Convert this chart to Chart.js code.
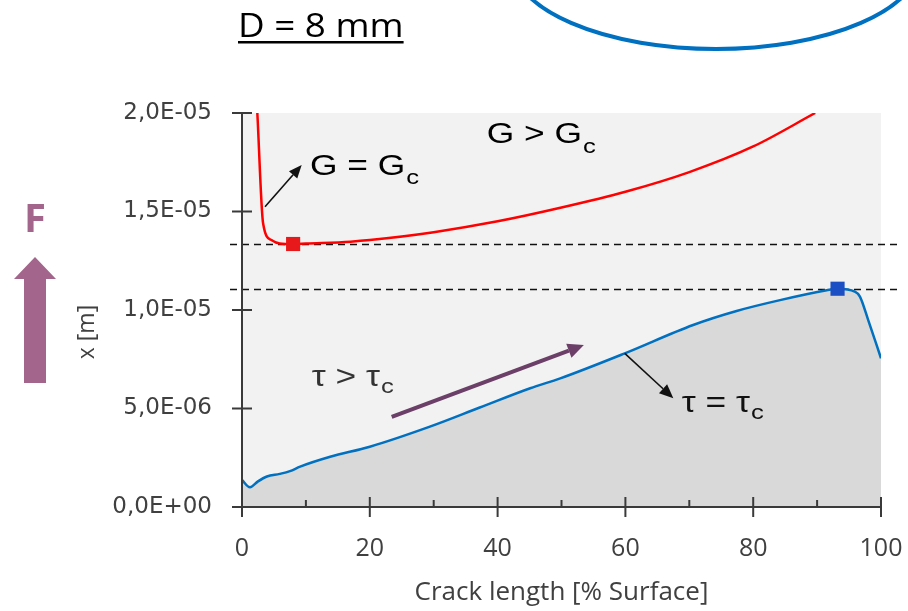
<!DOCTYPE html>
<html><head><meta charset="utf-8">
<script src="https://cdn.jsdelivr.net/npm/chart.js@4.4.1/dist/chart.umd.min.js"></script>
<style>html,body{margin:0;padding:0;background:#fff;overflow:hidden}canvas{display:block}</style>
</head><body>
<canvas id="c" width="908" height="611"></canvas>
<script>
// ---- data ----
const blueX = [0, 1.25, 2.5, 3.9, 5.9, 7.5, 9.1, 13.8, 20, 29.4, 37.2, 45.1, 49.8, 59.9, 70.6, 77.4, 84.2, 91.5, 93.2, 95.9, 96.7, 98, 100];
const blueY = [1.37e-6, 1.0e-6, 1.3e-6, 1.55e-6, 1.68e-6, 1.82e-6, 2.05e-6, 2.55e-6, 3.06e-6, 4.08e-6, 5.05e-6, 6.03e-6, 6.53e-6, 7.8e-6, 9.24e-6, 9.95e-6, 10.5e-6, 11.0e-6, 11.08e-6, 10.93e-6, 10.68e-6, 9.49e-6, 7.55e-6];
const redX = [2.4, 3.3, 4.6, 5.9, 8, 10, 17, 20, 30, 40, 50, 60, 70, 80, 89.7];
const redY = [2.0e-5, 1.44e-5, 1.355e-5, 1.337e-5, 1.334e-5, 1.337e-5, 1.347e-5, 1.355e-5, 1.395e-5, 1.45e-5, 1.52e-5, 1.6e-5, 1.7e-5, 1.83e-5, 2.0e-5];
const redMarker = [{x: 8.0, y: 1.335e-5}];
const blueMarker = [{x: 93.2, y: 1.108e-5}];
const dashLevels = [1.335e-5, 1.108e-5];
const xMajorTicks = [0, 20, 40, 60, 80, 100];
const yTickLabels = ['0,0E+00', '5,0E-06', '1,0E-05', '1,5E-05', '2,0E-05'];
const xTitle = 'Crack length [% Surface]';
const yTitle = 'x [m]';

// annotation anchors in data coordinates
const ann = {
  gGreater: {x: 38.3, y: 18.46e-6},
  gEqual: {x: 10.64, y: 16.85e-6},
  gArrow: [{x: 3.6, y: 15.24e-6}, {x: 9.34, y: 17.36e-6}],
  tauGreater: {x: 10.9, y: 6.14e-6},
  purpleArrow: [{x: 23.43, y: 4.58e-6}, {x: 53.5, y: 8.22e-6}],
  tauEqual: {x: 68.8, y: 4.84e-6},
  tauArrow: [{x: 59.9, y: 7.8e-6}, {x: 67.5, y: 5.52e-6}]
};

const pts = (xs, ys) => xs.map((x, i) => ({x, y: ys[i]}));

function sText(c, text, x, y, font, color, sx) {
  c.save();
  c.font = font; c.fillStyle = color; c.textAlign = 'left'; c.textBaseline = 'alphabetic';
  c.translate(x, y); c.scale(sx, 1); c.fillText(text, 0, 0);
  const w = c.measureText(text).width * sx;
  c.restore();
  return w;
}
function subText(c, main, sub, x, y, f1, f2, color, sx, dy) {
  const w = sText(c, main, x, y, f1, color, sx);
  sText(c, sub, x + w + 1, y + dy, f2, color, sx);
}
function arrow(c, x1, y1, x2, y2, color, lw, hl, hw) {
  const ang = Math.atan2(y2 - y1, x2 - x1);
  const bx = x2 - hl * Math.cos(ang), by = y2 - hl * Math.sin(ang);
  c.save();
  c.strokeStyle = color; c.fillStyle = color; c.lineWidth = lw; c.lineCap = 'butt';
  c.beginPath(); c.moveTo(x1, y1); c.lineTo(bx, by); c.stroke();
  c.beginPath();
  c.moveTo(x2, y2);
  c.lineTo(bx + hw * Math.sin(ang), by - hw * Math.cos(ang));
  c.lineTo(bx - hw * Math.sin(ang), by + hw * Math.cos(ang));
  c.closePath(); c.fill();
  c.restore();
}

const deco = {
  id: 'deco',
  beforeDraw(chart) {
    const c = chart.ctx, a = chart.chartArea;
    c.save();
    c.fillStyle = '#ffffff'; c.fillRect(0, 0, chart.width, chart.height);
    c.fillStyle = '#f2f2f2'; c.fillRect(a.left, a.top, a.right - a.left, a.bottom - a.top);
    c.restore();
  },
  beforeDatasetsDraw(chart) {
    const c = chart.ctx, a = chart.chartArea, ys = chart.scales.y;
    c.save();
    c.strokeStyle = '#111'; c.lineWidth = 1.6; c.setLineDash([7, 5]);
    dashLevels.forEach(v => {
      const py = Math.round(ys.getPixelForValue(v)) + 0.5;
      c.beginPath(); c.moveTo(a.left - 12, py); c.lineTo(900, py); c.stroke();
    });
    c.restore();
  },
  afterDraw(chart) {
    const c = chart.ctx, xs = chart.scales.x, ys = chart.scales.y;
    const x0 = xs.getPixelForValue(0), y0 = ys.getPixelForValue(0);
    const xEnd = xs.getPixelForValue(100), yTop = ys.getPixelForValue(2e-5);
    c.save();
    c.strokeStyle = '#3a3a3a'; c.lineWidth = 2;
    // axes
    c.beginPath(); c.moveTo(x0, yTop); c.lineTo(x0, y0 + 10); c.stroke();
    c.beginPath(); c.moveTo(x0 - 10, y0); c.lineTo(xEnd, y0); c.stroke();
    // x ticks
    xs.ticks.forEach(t => {
      const px = xs.getPixelForValue(t.value);
      const major = xMajorTicks.includes(Math.round(t.value));
      c.beginPath();
      if (major) { c.moveTo(px, y0 - 10); c.lineTo(px, y0 + 10); }
      else { c.moveTo(px, y0 - 7); c.lineTo(px, y0); }
      c.stroke();
    });
    // y ticks
    ys.ticks.forEach(t => {
      const py = ys.getPixelForValue(t.value);
      c.beginPath(); c.moveTo(x0 - 10, py); c.lineTo(x0 + 10, py); c.stroke();
    });
    c.restore();

    // y axis title
    c.save();
    c.translate(87, 332); c.rotate(-Math.PI / 2);
    c.font = '23px "Open Sans"'; c.fillStyle = '#404040'; c.textAlign = 'center'; c.textBaseline = 'middle';
    c.fillText(yTitle, 0, 0);
    c.restore();

    const P = p => [xs.getPixelForValue(p.x), ys.getPixelForValue(p.y)];
    const F1 = '29px "Liberation Sans"', F2 = '21px "Liberation Sans"';
    // G annotations
    let [gx, gy] = P(ann.gGreater);
    subText(c, 'G > G', 'c', gx, gy, F1, F2, '#000', 1.22, 10);
    [gx, gy] = P(ann.gEqual);
    subText(c, 'G = G', 'c', gx, gy, F1, F2, '#000', 1.22, 9);
    let [a1x, a1y] = P(ann.gArrow[0]), [a2x, a2y] = P(ann.gArrow[1]);
    arrow(c, a1x, a1y, a2x, a2y, '#111', 1.6, 13, 5.5);
    // tau annotations
    [gx, gy] = P(ann.tauGreater);
    subText(c, 'τ > τ', 'c', gx, gy, F1, F2, '#333', 1.22, 7);
    [gx, gy] = P(ann.tauEqual);
    subText(c, 'τ = τ', 'c', gx, gy, F1, F2, '#111', 1.22, 7);
    [a1x, a1y] = P(ann.tauArrow[0]); [a2x, a2y] = P(ann.tauArrow[1]);
    arrow(c, a1x, a1y, a2x, a2y, '#111', 1.6, 14, 6);
    [a1x, a1y] = P(ann.purpleArrow[0]); [a2x, a2y] = P(ann.purpleArrow[1]);
    arrow(c, a1x, a1y, a2x, a2y, '#6b3f68', 4, 16, 7.5);

    // title "D = 8 mm" underlined
    const w = sText(c, 'D = 8 mm', 238, 37, '32px "Open Sans"', '#000', 1.15);
    c.save(); c.fillStyle = '#000'; c.fillRect(238, 41, w, 2.5); c.restore();

    // blue ellipse at the top
    c.save();
    c.strokeStyle = '#0070c0'; c.lineWidth = 4;
    c.beginPath(); c.ellipse(716, -40, 205, 89, 0, 0, Math.PI * 2); c.stroke();
    c.restore();

    // F and up arrow
    c.save();
    c.fillStyle = '#a4658c';
    c.font = 'bold 40px "Open Sans"'; c.textAlign = 'center'; c.textBaseline = 'alphabetic';
    c.fillText('F', 35, 232);
    c.beginPath();
    c.moveTo(35, 257); c.lineTo(56, 279); c.lineTo(46, 279); c.lineTo(46, 383);
    c.lineTo(24, 383); c.lineTo(24, 279); c.lineTo(14, 279); c.closePath(); c.fill();
    c.restore();
  }
};

Chart.defaults.font.family = '"Open Sans"';
new Chart(document.getElementById('c'), {
  type: 'scatter',
  data: {
    datasets: [
      {label: 'G marker', data: redMarker, pointStyle: 'rect', pointRadius: 10, pointBackgroundColor: '#e8191a', pointBorderWidth: 0, showLine: false, order: 0},
      {label: 'τ marker', data: blueMarker, pointStyle: 'rect', pointRadius: 10, pointBackgroundColor: '#1d4fc4', pointBorderWidth: 0, showLine: false, order: 0},
      {label: 'G = Gc', data: pts(redX, redY), showLine: true, borderColor: '#ff0000', borderWidth: 2.5, pointRadius: 0, fill: false, cubicInterpolationMode: 'monotone', order: 1},
      {label: 'τ = τc', data: pts(blueX, blueY), showLine: true, borderColor: '#0070c0', borderWidth: 2.5, pointRadius: 0, fill: 'origin', backgroundColor: '#d9d9d9', cubicInterpolationMode: 'monotone', order: 2}
    ]
  },
  options: {
    responsive: false, animation: false,
    layout: {padding: {left: 0, top: 113, right: 27, bottom: 0}},
    plugins: {legend: {display: false}, tooltip: {enabled: false}},
    scales: {
      x: {
        type: 'linear', min: 0, max: 100,
        grid: {display: false, drawTicks: false}, border: {display: false},
        ticks: {stepSize: 10, autoSkip: false, maxRotation: 0, padding: 27, color: '#404040', font: {size: 25, family: '"Open Sans"'},
          callback: v => xMajorTicks.includes(Math.round(v)) ? String(Math.round(v)) : ''},
        title: {display: true, text: xTitle, color: '#404040', font: {size: 26, family: '"Open Sans"'}, padding: {top: 0, bottom: 3}},
        afterFit: s => { s.height = 104; s.paddingLeft = 0; s.paddingRight = 0; }
      },
      y: {
        min: 0, max: 2e-5,
        grid: {display: false, drawTicks: false}, border: {display: false},
        ticks: {stepSize: 5e-6, padding: 30, color: '#404040', font: {size: 23, family: '"DejaVu Sans"'},
          callback: (v, i) => yTickLabels[i]},
        afterFit: s => { s.width = 242; s.paddingTop = 0; s.paddingBottom = 0; }
      }
    }
  },
  plugins: [deco]
});
</script>
</body></html>
